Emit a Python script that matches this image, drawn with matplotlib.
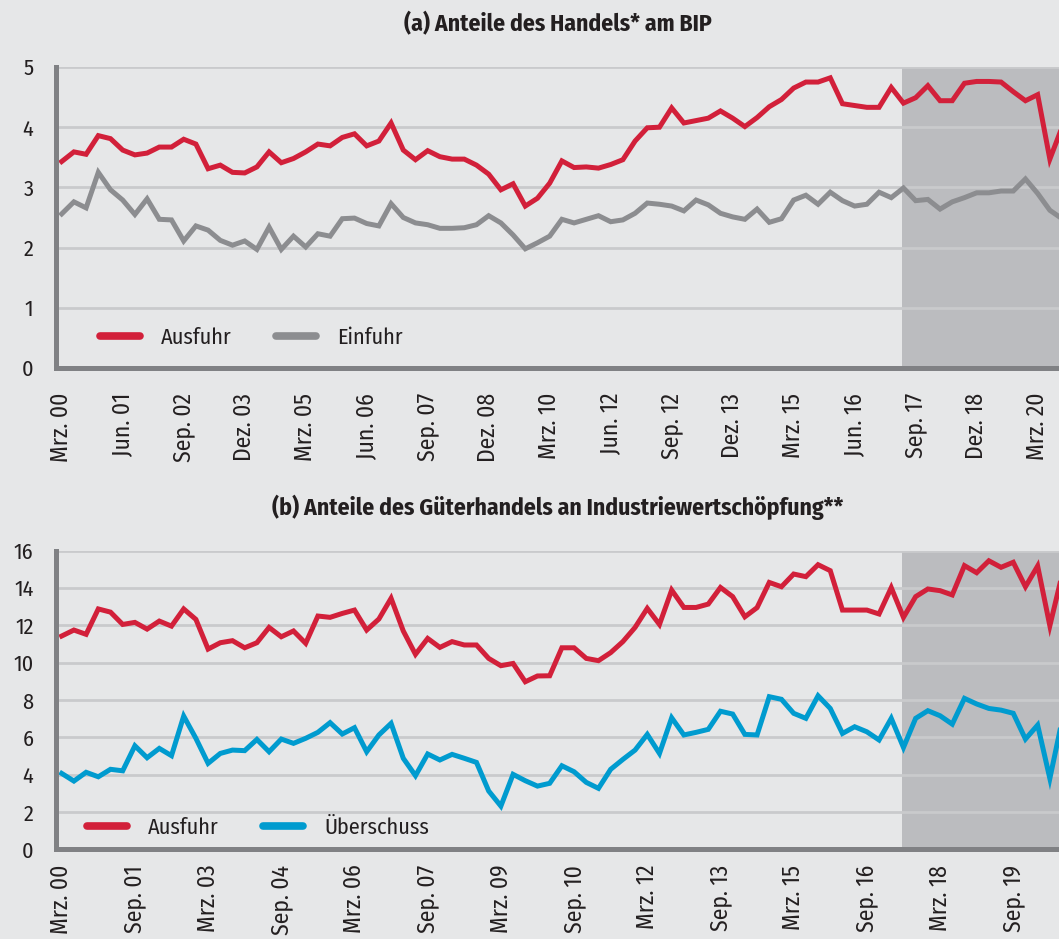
import numpy as np
import matplotlib
matplotlib.use("Agg")
import matplotlib.pyplot as plt
from matplotlib import font_manager
from matplotlib.lines import Line2D

# ---------------- data (quarterly, Q1 2000 ...) ----------------
a_labels = ["Mrz. 00", "Jun. 01", "Sep. 02", "Dez. 03", "Mrz. 05", "Jun. 06",
            "Sep. 07", "Dez. 08", "Mrz. 10", "Jun. 12", "Sep. 12", "Dez. 13",
            "Mrz. 15", "Jun. 16", "Sep. 17", "Dez. 18", "Mrz. 20"]
b_labels = ["Mrz. 00", "Sep. 01", "Mrz. 03", "Sep. 04", "Mrz. 06", "Sep. 07",
            "Mrz. 09", "Sep. 10", "Mrz. 12", "Sep. 13", "Mrz. 15", "Sep. 16",
            "Mrz. 18", "Sep. 19"]

a_ausfuhr = [3.43, 3.59, 3.55, 3.86, 3.81, 3.62, 3.54, 3.57, 3.67, 3.67,
             3.80, 3.72, 3.31, 3.37, 3.25, 3.24, 3.34, 3.59, 3.41, 3.48,
             3.59, 3.72, 3.69, 3.83, 3.89, 3.69, 3.77, 4.07, 3.62, 3.46,
             3.61, 3.51, 3.47, 3.47, 3.37, 3.22, 2.96, 3.06, 2.69, 2.82,
             3.07, 3.44, 3.33, 3.34, 3.32, 3.38, 3.46, 3.77, 3.99, 4.00,
             4.32, 4.07, 4.11, 4.15, 4.27, 4.15, 4.01, 4.16, 4.34, 4.46,
             4.65, 4.75, 4.75, 4.82, 4.39, 4.36, 4.33, 4.33, 4.66, 4.40,
             4.49, 4.69, 4.44, 4.44, 4.73, 4.76, 4.76, 4.75, 4.59, 4.44,
             4.54, 3.47, 4.00]
a_einfuhr = [2.56, 2.76, 2.66, 3.25, 2.96, 2.79, 2.55, 2.81, 2.47, 2.46,
             2.11, 2.36, 2.29, 2.12, 2.04, 2.11, 1.97, 2.34, 1.97, 2.19,
             2.01, 2.23, 2.19, 2.48, 2.49, 2.40, 2.36, 2.73, 2.50, 2.41,
             2.38, 2.32, 2.32, 2.33, 2.38, 2.53, 2.41, 2.21, 1.98, 2.08,
             2.19, 2.47, 2.41, 2.47, 2.53, 2.43, 2.46, 2.57, 2.74, 2.72,
             2.69, 2.61, 2.79, 2.71, 2.57, 2.51, 2.47, 2.64, 2.42, 2.48,
             2.79, 2.87, 2.72, 2.92, 2.78, 2.69, 2.72, 2.92, 2.83, 2.99,
             2.78, 2.80, 2.64, 2.76, 2.83, 2.91, 2.91, 2.94, 2.94, 3.14,
             2.90, 2.62, 2.48]

b_ausfuhr = [11.43, 11.75, 11.52, 12.88, 12.71, 12.05, 12.16, 11.80, 12.23, 11.96,
             12.88, 12.32, 10.73, 11.07, 11.18, 10.80, 11.07, 11.89, 11.39, 11.70,
             11.04, 12.50, 12.43, 12.64, 12.82, 11.75, 12.34, 13.45, 11.70, 10.45,
             11.30, 10.82, 11.13, 10.95, 10.95, 10.23, 9.84, 9.96, 8.98, 9.29,
             9.30, 10.80, 10.80, 10.23, 10.11, 10.54, 11.13, 11.89, 12.91, 12.05,
             13.89, 12.96, 12.96, 13.14, 14.03, 13.54, 12.46, 12.95, 14.30, 14.07,
             14.75, 14.61, 15.25, 14.93, 12.82, 12.82, 12.82, 12.61, 14.02, 12.43,
             13.54, 13.95, 13.86, 13.63, 15.20, 14.82, 15.46, 15.11, 15.38, 14.07,
             15.18, 11.98, 14.70]
b_ueberschuss = [4.07, 3.66, 4.13, 3.89, 4.29, 4.21, 5.55, 4.91, 5.41, 5.02,
                 7.14, 5.95, 4.61, 5.14, 5.32, 5.29, 5.89, 5.23, 5.91, 5.68,
                 5.95, 6.27, 6.79, 6.18, 6.52, 5.23, 6.13, 6.75, 4.88, 3.95,
                 5.11, 4.79, 5.09, 4.88, 4.66, 3.13, 2.32, 4.02, 3.68, 3.39,
                 3.54, 4.48, 4.16, 3.59, 3.27, 4.29, 4.82, 5.32, 6.16, 5.14,
                 7.05, 6.13, 6.27, 6.43, 7.40, 7.25, 6.16, 6.13, 8.18, 8.04,
                 7.29, 7.02, 8.23, 7.55, 6.21, 6.57, 6.30, 5.86, 7.02, 5.46,
                 7.02, 7.43, 7.16, 6.71, 8.09, 7.79, 7.55, 7.46, 7.29, 5.91,
                 6.66, 3.80, 6.90]

# ---------------- style ----------------
BG = "#e6e7e8"
SHADE = "#bbbcbf"
GRID = "#c9cacc"
SPINE = "#808184"
RED = "#d2203a"
GRAY = "#8c8d90"
BLUE = "#009bcf"
TXT = "#231f20"

names = {f.name for f in font_manager.fontManager.ttflist}
pref = ["Fira Sans Condensed", "Roboto Condensed", "IBM Plex Sans Condensed",
        "Open Sans", "DejaVu Sans"]
fam = [n for n in pref if n in names][:1] + ["DejaVu Sans"]
plt.rcParams["font.family"] = fam

FS = 16
W, H = 1059, 939
fig = plt.figure(figsize=(W / 100, H / 100), dpi=100, facecolor=BG)

x_left_px, x_right_px = 55.6, 1059
shade_start = 68.85
xlim = (-0.5, 81.75)


def make_axes(top_px, bottom_px):
    return fig.add_axes([x_left_px / W, 1 - bottom_px / H,
                         (x_right_px - x_left_px) / W, (bottom_px - top_px) / H])


def style(ax, ymax, ystep, tick_step, labels, xpad):
    ax.set_facecolor(BG)
    ax.set_xlim(*xlim)
    ax.set_ylim(0, ymax)
    ax.axvspan(shade_start, 100, color=SHADE, zorder=0, lw=0)
    for y in np.arange(ystep, ymax + 0.001, ystep):
        ax.axhline(y, color=GRID, lw=2.0, zorder=1)
    ax.set_yticks(np.arange(0, ymax + 0.001, ystep))
    ax.set_xticks(np.arange(len(labels)) * tick_step)
    ax.set_xticklabels(labels, rotation=90, va="top", ha="center")
    ax.tick_params(axis="both", length=0, colors=TXT)
    ax.tick_params(axis="y", pad=16, labelsize=FS)
    ax.tick_params(axis="x", pad=xpad, labelsize=17)
    for s in ["top", "right"]:
        ax.spines[s].set_visible(False)
    for s in ["left", "bottom"]:
        ax.spines[s].set_color(SPINE)
        ax.spines[s].set_linewidth(3.6)
        ax.spines[s].set_zorder(5)


def legend(ax, items, anchor):
    handles = [Line2D([0], [0], color=c, lw=5.5, solid_capstyle="round") for c, _ in items]
    ax.legend(handles, [t for _, t in items], loc="center left", bbox_to_anchor=anchor,
              ncol=2, frameon=False, fontsize=FS, handlelength=1.8, handletextpad=0.95,
              columnspacing=2.0, borderpad=0, borderaxespad=0, labelcolor=TXT)


# ---------- panel (a) ----------
axa = make_axes(67, 368)
style(axa, 5, 1, 5, a_labels, 18)
xa = np.arange(len(a_ausfuhr))
axa.plot(xa, a_einfuhr, color=GRAY, lw=3.6, zorder=3, solid_joinstyle="miter")
axa.plot(xa, a_ausfuhr, color=RED, lw=3.6, zorder=4, solid_joinstyle="miter")
legend(axa, [(RED, "Ausfuhr"), (GRAY, "Einfuhr")], (0.044, 0.1))
fig.text(558 / W, 1 - 24 / H, "(a) Anteile des Handels* am BIP", ha="center", va="center",
         fontsize=17, fontweight="bold", color=TXT)

# ---------- panel (b) ----------
axb = make_axes(550.7, 849.4)
style(axb, 16, 2, 6, b_labels, 11)
xb = np.arange(len(b_ausfuhr))
axb.plot(xb, b_ueberschuss, color=BLUE, lw=3.6, zorder=3, solid_joinstyle="miter")
axb.plot(xb, b_ausfuhr, color=RED, lw=3.6, zorder=4, solid_joinstyle="miter")
legend(axb, [(RED, "Ausfuhr"), (BLUE, "Überschuss")], (0.031, 0.0726))
fig.text(558 / W, 1 - 507 / H, "(b) Anteile des Güterhandels an Industriewertschöpfung**",
         ha="center", va="center", fontsize=17, fontweight="bold", color=TXT)

fig.savefig("out.png", dpi=100, facecolor=BG)
